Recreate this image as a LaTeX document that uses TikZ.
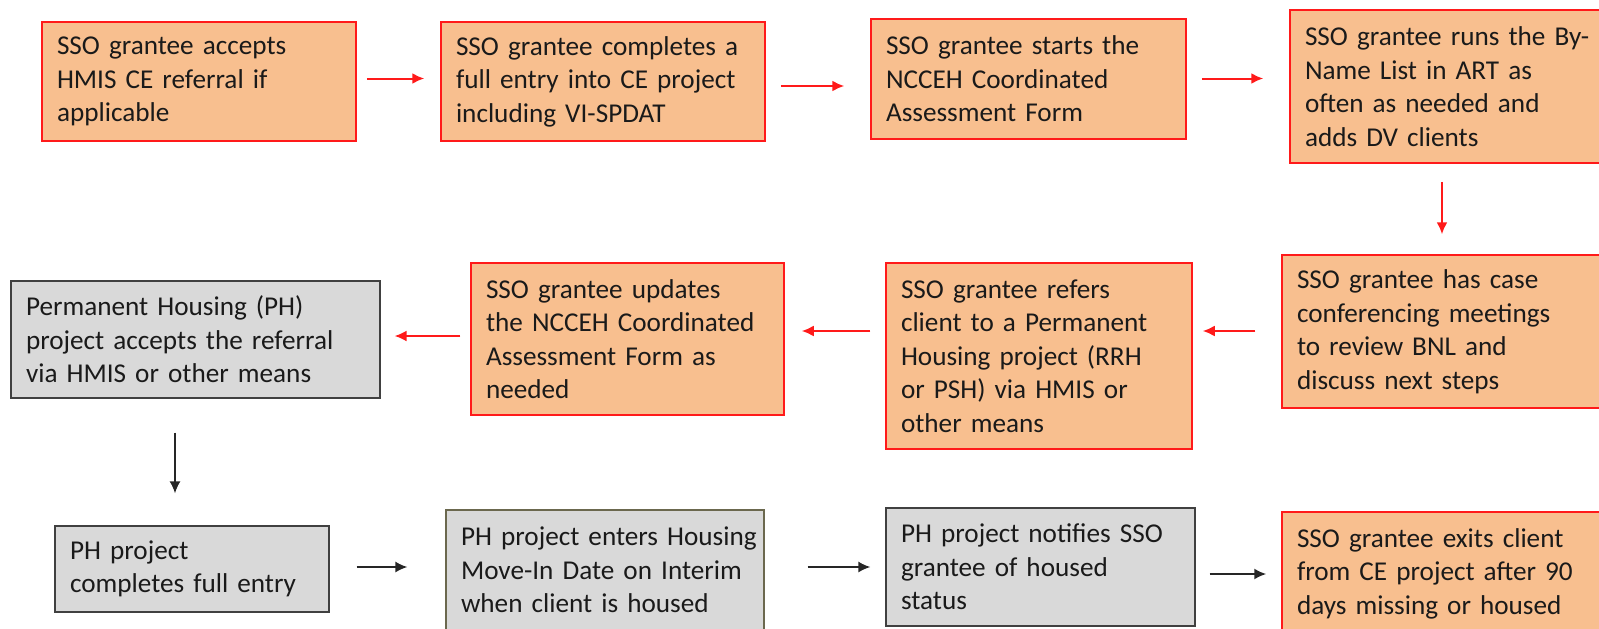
\documentclass[tikz,border=0pt]{standalone}
\usepackage{fontspec}
\setmainfont{Carlito}
\usetikzlibrary{arrows.meta, positioning}

\definecolor{boxorange}{HTML}{F8BF8F}
\definecolor{boxgray}{HTML}{D9D9D9}
\definecolor{edgered}{HTML}{FF1A1A}
\definecolor{edgegray}{HTML}{404040}
\definecolor{textdark}{HTML}{1A1A1A}

\begin{document}
\begin{tikzpicture}[x=1pt, y=-1pt, >={Latex[length=12pt, width=11pt]}]
				\tikzstyle{obox} = [draw=edgered, line width=1.5pt, fill=boxorange, rectangle, align=left, inner xsep=15pt, inner ysep=0pt, text=textdark, font=\fontsize{27.2}{33.5}\selectfont]
				\tikzstyle{gbox} = [obox, draw=edgegray, line width=1.2pt, fill=boxgray]
				\tikzstyle{rline} = [->, draw=edgered, line width=2pt]
				\tikzstyle{kline} = [->, draw=black!85, line width=1.8pt]
				
				\useasboundingbox (0, 0) rectangle (1599, 629);
				
				% first row
				\node[obox, text width=284pt, minimum height=119pt] 	at (199, 81.5) 		(accept) 	{SSO grantee accepts\\HMIS CE referral if\\applicable};
				\node[obox, text width=294pt, minimum height=119pt] 	at (603, 81.5) 		(entry) 	{SSO grantee completes a\\full entry into CE project\\including VI-SPDAT};
				\node[obox, text width=285pt, minimum height=120pt] 	at (1028.5, 79) 	(form) 		{SSO grantee starts the\\NCCEH Coordinated\\Assessment Form};
				\node[obox, text width=292pt, minimum height=153pt] 	at (1451, 86.5) 	(bnl) 		{SSO grantee runs the By-\\Name List in ART as\\often as needed and\\adds DV clients};
				
				% second row
				\node[obox, text width=299pt, minimum height=153pt] 	at (1446.5, 331.5) 	(conf) 		{SSO grantee has case\\conferencing meetings\\to review BNL and\\discuss next steps};
				\node[obox, text width=276pt, minimum height=186pt] 	at (1039, 356) 		(refer) 	{SSO grantee refers\\client to a Permanent\\Housing project (RRH\\or PSH) via HMIS or\\other means};
				\node[obox, text width=283pt, minimum height=152pt] 	at (627.5, 339) 	(update) 	{SSO grantee updates\\the NCCEH Coordinated\\Assessment Form as\\needed};
				\node[gbox, text width=339pt, minimum height=117pt] 	at (195.5, 339.5) 	(phaccept) 	{Permanent Housing (PH)\\project accepts the referral\\via HMIS or other means};
				
				% third row
				\node[gbox, text width=244pt, minimum height=86pt] 	at (192, 569) 		(phentry) 	{PH project\\completes full entry};
				\node[gbox, draw=black!55!olive!60!gray, text width=288pt, minimum height=120pt] 	at (605, 570) 	(movein) 	{\mbox{PH project enters Housing}\\Move-In Date on Interim\\when client is housed};
				\node[gbox, text width=279pt, minimum height=118pt] 	at (1040.5, 567) 	(notify) 	{PH project notifies SSO\\grantee of housed\\status};
				\node[obox, text width=299pt, minimum height=123pt] 	at (1446.5, 573.5) 	(exit) 		{SSO grantee exits client\\from CE project after 90\\days missing or housed};
				
				% red connectors
				\draw[rline, shorten <=10pt, shorten >=16pt] ([yshift=3pt]accept.east) -- ([yshift=3pt]accept.east -| entry.west);
				\draw[rline, shorten <=15pt, shorten >=26pt] ([yshift=-4.5pt]entry.east) -- ([yshift=-4.5pt]entry.east -| form.west);
				\draw[rline, shorten <=15pt, shorten >=26pt] ([yshift=0.5pt]form.east) -- ([yshift=0.5pt]form.east -| bnl.west);
				\draw[rline, shorten <=18pt, shorten >=20pt] ([xshift=-9pt]bnl.south) -- ([xshift=-9pt]bnl.south |- conf.north);
				\draw[rline, shorten <=26pt, shorten >=10pt] ([yshift=0.5pt]conf.west) -- ([yshift=0.5pt]conf.west -| refer.east);
				\draw[rline, shorten <=15pt, shorten >=17pt] ([yshift=25pt]refer.west) -- ([yshift=25pt]refer.west -| update.east);
				\draw[rline, shorten <=10pt, shorten >=14pt] ([yshift=3pt]update.west) -- ([yshift=3pt]update.west -| phaccept.east);
				
				% black connectors
				\draw[kline, shorten <=34pt, shorten >=32pt] ([xshift=-20.5pt]phaccept.south) -- ([xshift=-20.5pt]phaccept.south |- phentry.north);
				\draw[kline, shorten <=27pt, shorten >=38pt] ([yshift=2pt]phentry.east) -- ([yshift=2pt]phentry.east -| movein.west);
				\draw[kline, shorten <=43pt, shorten >=15pt] (notify.west -| movein.east) -- (notify.west);
				\draw[kline, shorten <=14pt, shorten >=15pt] ([yshift=-7pt]notify.east) -- ([yshift=-7pt]notify.east -| exit.west);
				\end{tikzpicture}
\end{document}
